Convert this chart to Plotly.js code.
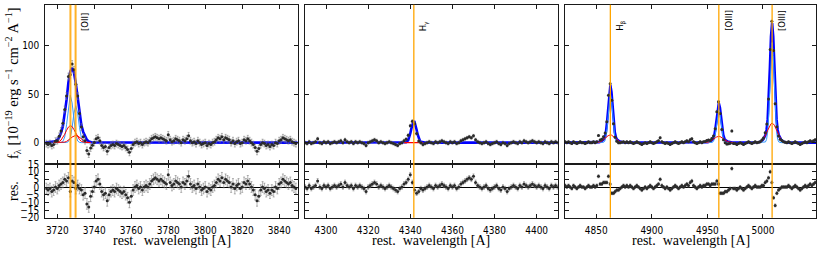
<!DOCTYPE html>
<html><head><meta charset="utf-8">
<script src="https://cdn.plot.ly/plotly-3.0.1.min.js"></script>
<style>html,body{margin:0;padding:0;background:#fff}#c{width:822px;height:254px}</style>
</head><body><div id="c"></div>
<script>
// ---------------- DATA ----------------
// Left panel: [OII] doublet region
const leftWave = [3714,3715,3716,3717,3718,3719,3720,3721,3722,3723,
3724,3725,3726,3727,3728,3729,3730,3731,3732,3733,
3734,3735,3736,3737,3738,3739,3740,3741,3742,3743,
3744,3745,3746,3747,3748,3749,3750,3751,3752,3753,
3754,3755,3756,3757,3758,3759,3760,3761,3762,3763,
3764,3765,3766,3767,3768,3769,3770,3771,3772,3773,
3774,3775,3776,3777,3778,3779,3780,3781,3782,3783,
3784,3785,3786,3787,3788,3789,3790,3791,3792,3793,
3794,3795,3796,3797,3798,3799,3800,3801,3802,3803,
3804,3805,3806,3807,3808,3809,3810,3811,3812,3813,
3814,3815,3816,3817,3818,3819,3820,3821,3822,3823,
3824,3825,3826,3827,3828,3829,3830,3831,3832,3833,
3834,3835,3836,3837,3838,3839,3840,3841,3842,3843,
3844,3845,3846,3847,3848,3849];
const leftFlux = [-1,-2,-1,-3,-2,1.5,2,6.5,12,20,
34,48,68,70,81,75,60,48,30,16,
6,2,-8,-11.8,-5.5,-2.8,0.1,4,5,2,
-3,-5,-4,-9,-5,-3,-2,-3,-1,-2,
-3,-4,-3,-5,-7,-10,-6,-2,0,1,
-1,0,-2,0,1,0,2,4,5,6,
5,4,5,4,3,2,8,3,1,2,
4,3,2,0,3,2,4,7,2,0,
1,-1,2,0,-2,-1,0,-3,-1,-2,
0,1,3,5,4,6,3,5,4,3,
0,2,-1,1,2,-1,0,3,2,4,
2,0,-2,-5,-9,-6,-2,0,-1,-3,
-2,-4,-2,-3,0,-1,2,3,5,4,
3,2,3,1,0,-1];
const leftRes = [-1,-2,-1,-3,-2,0,-1,1,2,3,
5,4,6,-3,4,3,-1,1,-1,-2,
-5,-4,-11,-13,-6,-3,0,4,5,2,
-3,-5,-4,-9,-5,-3,-2,-3,-1,-2,
-3,-4,-3,-5,-7,-10,-6,-2,0,1,
-1,0,-2,0,1,0,2,4,5,6,
5,4,5,4,3,2,8,3,1,2,
4,3,2,0,3,2,4,7,2,0,
1,-1,2,0,-2,-1,0,-3,-1,-2,
0,1,3,5,4,6,3,5,4,3,
0,2,-1,1,2,-1,0,3,2,4,
2,0,-2,-5,-9,-6,-2,0,-1,-3,
-2,-4,-2,-3,0,-1,2,3,5,4,
3,2,3,1,0,-1];
const leftModelWave = [3713.5,3716,3717,3718,3719,3720,3721,3722,3723,3724,3725,3726,3727,3728,3729,3730,3731,3732,3733,3734,3735,3736,3737,3738,3739,3740,3850];
const leftModelTotal = [0,0.3,0.5,1,1.6,3,5.5,10,17,29,44,62,73,77,72,61,47,31,18,11,6,3,1.2,0.5,0.2,0.1,0];
const leftCompWave = [3718,3719,3720,3721,3722,3723,3724,3725,3726,3727,3728,3729,3730,3731,3732,3733,3734,3735,3736,3737,3738];
const leftBroad1 = [0.04,0.14,0.42,1.12,2.56,5.05,8.6,12.6,16.0,17.5,16.5,13.4,9.4,5.7,3.0,1.33,0.52,0.17,0.05,0.01,0];
const leftBroad2 = [0,0,0,0.02,0.07,0.22,0.57,1.27,2.44,4.03,5.75,7.07,7.5,6.86,5.4,3.68,2.16,1.1,0.48,0.18,0.06];
const leftNarrow1 = [0,0,0,0,0.15,1.2,5.8,18.4,37.4,48.9,40.9,22,7.6,1.7,0.24,0.02,0,0,0,0,0];
const leftNarrow2 = [0,0,0,0,0,0,0,0.15,1.1,5.1,15.6,30.4,38,30.4,15.6,5.1,1.1,0.15,0,0,0];

// Middle panel: H gamma
const midWave = [4290,4291,4292,4293,4294,4295,4296,4297,4298,4299,
4300,4301,4302,4303,4304,4305,4306,4307,4308,4309,
4310,4311,4312,4313,4314,4315,4316,4317,4318,4319,
4320,4321,4322,4323,4324,4325,4326,4327,4328,4329,
4330,4331,4332,4333,4334,4335,4336,4337,4338,4339,
4340,4341,4342,4343,4344,4345,4346,4347,4348,4349,
4350,4351,4352,4353,4354,4355,4356,4357,4358,4359,
4360,4361,4362,4363,4364,4365,4366,4367,4368,4369,
4370,4371,4372,4373,4374,4375,4376,4377,4378,4379,
4380,4381,4382,4383,4384,4385,4386,4387,4388,4389,
4390,4391,4392,4393,4394,4395,4396,4397,4398,4399,
4400,4401,4402,4403,4404,4405,4406,4407,4408,4409,4410];
const midFlux = [0,-1,1,-1,0,1,4,0,-1,1,
0,1,-1,0,1,0,1,2,0,3,
1,0,1,-1,1,0,1,0,-1,-3,
0,1,2,3,2,0,1,0,-1,0,
1,0,-1,-2,-3,-1,0,2,3.4,7.5,
17.4,22,19.4,9.3,1.6,-0.1,-2,-1,0,1,
0,-1,1,0,1,2,1,0,-1,1,
0,1,-1,0,2,3,4,5,6,5,
7,3,1,0,-1,0,1,-1,-2,-1,
0,1,-1,-2,0,-1,-3,-1,0,1,
0,-1,1,0,2,1,0,1,2,1,
0,1,0,-1,1,0,-1,1,0,1,0];
const midRes = [0,-1,1,-1,0,1,4,0,-1,1,
0,1,-1,0,1,0,1,2,0,3,
1,0,1,-1,1,0,1,0,-1,-3,
0,1,2,3,2,0,1,0,-1,0,
1,0,-1,-2,-3,-1,0,2,3,5,
8,3,-2,-4,-3,-1,-2,-1,0,1,
0,-1,1,0,1,2,1,0,-1,1,
0,1,-1,0,2,3,4,5,6,5,
7,3,1,0,-1,0,1,-1,-2,-1,
0,1,-1,-2,0,-1,-3,-1,0,1,
0,-1,1,0,2,1,0,1,2,1,
0,1,0,-1,1,0,-1,1,0,1,0];
const midModelWave = [4290,4336,4337,4338,4339,4339.5,4340,4340.5,4341,4341.5,4342,4342.5,4343,4343.5,4344,4344.5,4345,4346,4347,4410];
const midModelTotal = [0,0,0.03,0.38,2.5,5.3,9.4,14.4,19.0,21.7,21.4,18.2,13.3,8.4,4.6,2.2,0.88,0.09,0,0];
const midBroadWave = [4337,4346];
const midBroad = [0,0];

// Right panel: H beta + [OIII]
const rightWave = [4822,4823.5,4825,4826.5,4828,4829.5,4831,4832.5,4834,4835.5,
4837,4838.5,4840,4841.5,4843,4844.5,4846,4847.5,4849,4850.5,
4852,4853.5,4855,4856.5,4858,4859.5,4861,4862.5,4864,4865.5,
4867,4868.5,4870,4871.5,4873,4874.5,4876,4877.5,4879,4880.5,
4882,4883.5,4885,4886.5,4888,4889.5,4891,4892.5,4894,4895.5,
4897,4898.5,4900,4901.5,4903,4904.5,4906,4907.5,4909,4910.5,
4912,4913.5,4915,4916.5,4918,4919.5,4921,4922.5,4924,4925.5,
4927,4928.5,4930,4931.5,4933,4934.5,4936,4937.5,4939,4940.5,
4942,4943.5,4945,4946.5,4948,4949.5,4951,4952.5,4954,4955.5,
4957,4958.5,4960,4961.5,4963,4964.5,4966,4967.5,4969,4970.5,
4972,4973.5,4975,4976.5,4978,4979.5,4981,4982.5,4984,4985.5,
4987,4988.5,4990,4991.5,4993,4994.5,4996,4997.5,4999,5000.5,
5002,5003.5,5005,5006.5,5008,5009.5,5011,5012.5,5014,5015.5,
5017,5018.5,5020,5021.5,5023,5024.5,5026,5027.5,5029,5030.5,
5032,5033.5,5035,5036.5,5038,5039.5,5041,5042.5,5044,5045.5,
5047];
const rightFlux = [1,0,1,0,-1,1,0,-1,0,1,
0,0,-1,0,1,0,0,1,0,1,
7.3,2.7,3.5,6,9.8,21.6,48.9,60.7,43.7,19.4,
5.6,1.5,-0.2,-0.1,0.4,1,0,1,0,1,
0,-1,0,1,0,-1,-2,-1,0,-1,
0,1,0,-1,0,1,2,5,1,0,
-1,0,-1,-2,-1,0,1,0,-1,0,
1,0,1,2,1,3,4,1,0,-1,
0,1,0,1,1.1,2.2,2.6,2.2,4.3,6.8,
14.4,31.7,42.1,30,13.6,2.9,0,-1.5,-1.2,-0.7,
12.1,-1,-1,-2,-1,0,-1,-2,-1,0,
1,0,-1,0,1,0,0.3,0.8,2.8,4.7,
10.1,19.2,44.9,96,125,94.8,40,16.3,6.9,3.6,
2.3,1,0.4,0,1,0,-1,0,1,0,
-1,-2,-1,0,1,0,1,2,1,2,
3];
const rightRes = [1,0,1,0,-1,1,0,-1,0,1,
0,0,-1,0,1,0,0,1,0,1,
7,2,2,3,3,3,7,2,-4,-4,
-3,-2,-2,-1,0,1,0,1,0,1,
0,-1,0,1,0,-1,-2,-1,0,-1,
0,1,0,-1,0,1,2,5,1,0,
-1,0,-1,-2,-1,0,1,0,-1,0,
1,0,1,2,1,3,4,1,0,-1,
0,1,0,1,1,2,2,1,2,2,
2,4,2,-4,-4,-4,-3,-3,-2,-1,
12,-1,-1,-2,-1,0,-1,-2,-1,0,
1,0,-1,0,1,0,0,0,1,1,
3,4,6,10,3,-7,-12,-4,-2,-1,
0,0,0,0,1,0,-1,0,1,0,
-1,-2,-1,0,1,0,1,2,1,2,
3];
const hbWave = [4847.68,4850.68,4852.68,4854.68,4856.68,4857.68,4858.68,4859.68,4860.68,4861.68,4862.68,4863.68,4864.68,4865.68,4866.68,4867.68,4868.68,4870.68,4872.68,4874.68,4877.68];
const hbTotal = [0.01,0.14,0.47,1.3,3.2,5.5,10.6,20.9,36.4,52.2,59,52.2,36.4,20.9,10.6,5.5,3.2,1.3,0.47,0.14,0.01];
const hbBroad = [0.01,0.14,0.47,1.3,2.88,3.94,5.08,6.2,7.14,7.78,8,7.78,7.14,6.2,5.08,3.94,2.88,1.3,0.47,0.14,0.01];
const hbNarrow = [0,0,0,0,0.35,1.6,5.56,14.7,29.3,44.4,51,44.4,29.3,14.7,5.56,1.6,0.35,0,0,0,0];
const o3aWave = [4945.29,4948.29,4950.29,4952.29,4954.29,4955.29,4956.29,4957.29,4958.29,4959.29,4960.29,4961.29,4962.29,4963.29,4964.29,4965.29,4966.29,4968.29,4970.29,4972.29,4975.29];
const o3aTotal = [0.01,0.11,0.38,1.06,2.57,4.26,7.83,14.8,25.4,35.9,40.5,35.9,25.4,14.8,7.83,4.26,2.57,1.06,0.38,0.11,0.01];
const o3aBroad = [0.01,0.11,0.38,1.06,2.34,3.2,4.13,5.04,5.8,6.32,6.5,6.32,5.8,5.04,4.13,3.2,2.34,1.06,0.38,0.11,0.01];
const o3aNarrow = [0,0,0,0,0.23,1.06,3.7,9.8,19.6,29.6,34,29.6,19.6,9.8,3.7,1.06,0.23,0,0,0,0];
const o3bWave = [4993.24,4996.24,4998.24,5000.24,5002.24,5003.24,5004.24,5005.24,5006.24,5007.24,5008.24,5009.24,5010.24,5011.24,5012.24,5013.24,5014.24,5016.24,5018.24,5020.24,5023.24];
const o3bTotal = [0.03,0.34,1.18,3.27,7.9,13.1,23.9,45.1,77.1,109.1,123,109.1,77.1,45.1,23.9,13.1,7.9,3.27,1.18,0.34,0.03];
const o3bBroad = [0.03,0.34,1.18,3.26,7.2,9.84,12.7,15.5,17.9,19.4,20,19.4,17.9,15.5,12.7,9.84,7.2,3.26,1.18,0.34,0.03];
const o3bNarrow = [0,0,0,0.01,0.7,3.22,11.2,29.6,59.2,89.7,103,89.7,59.2,29.6,11.2,3.22,0.7,0.01,0,0,0];
const rightEdges = [4821.6, 5048];

// line markers
const lineWaves = [[3727.09, 3729.88], [4341.68], [4862.68, 4960.29, 5008.24]];
const lineLabels = [[null, "[OII]"], ["H<sub>γ</sub>"], ["H<sub>β</sub>", "[OIII]", "[OIII]"]];

// tick labels
const xRanges = [[3713.5, 3850], [4290, 4410], [4821.6, 5048]];
const xTickVals = [[3720,3740,3760,3780,3800,3820,3840],[4300,4320,4340,4360,4380,4400],[4850,4900,4950,5000]];
const mainTicks = [0, 50, 100];
const resTicks = [-20,-15,-10,-5,0,5,10,15];

// ---------------- LAYOUT ----------------
const W = 822, H = 254;
const colPx = [[45.3, 297.7], [305, 557.7], [564.7, 816.3]];
const mainPx = [4.7, 164], resPx = [164, 217.7];
const dom = p => [p[0] / W, p[1] / W];
const ydom = p => [1 - p[1] / H, 1 - p[0] / H];

const frame = '#1a1a1a';
const tickFont = {family: 'Liberation Sans Narrow, DejaVu Sans Condensed, DejaVu Sans, sans-serif', size: 10, color: '#000'};
const serif = 'Liberation Serif, DejaVu Serif, serif';

const layout = {
  width: W, height: H, margin: {l: 0, r: 0, t: 0, b: 0},
  paper_bgcolor: '#fff', plot_bgcolor: '#fff', showlegend: false,
  shapes: [], annotations: []
};

for (let c = 0; c < 3; c++) {
  const mi = c + 1, ri = c + 4;
  const common = {showline: true, linecolor: frame, linewidth: 1, mirror: 'ticks', ticks: 'inside',
    ticklen: 4, tickcolor: frame, tickwidth: 1, showgrid: false, zeroline: false, tickfont: tickFont};
  layout['xaxis' + (mi === 1 ? '' : mi)] = Object.assign({}, common, {
    domain: dom(colPx[c]), anchor: 'y' + (mi === 1 ? '' : mi), range: xRanges[c],
    tickvals: xTickVals[c], showticklabels: false});
  layout['xaxis' + ri] = Object.assign({}, common, {
    domain: dom(colPx[c]), anchor: 'y' + ri, range: xRanges[c],
    tickvals: xTickVals[c], showticklabels: true, ticklabelstandoff: 3});
  layout['yaxis' + (mi === 1 ? '' : mi)] = Object.assign({}, common, {
    domain: ydom(mainPx), anchor: 'x' + (mi === 1 ? '' : mi), range: [-22, 142],
    tickvals: mainTicks, showticklabels: c === 0, ticklabelstandoff: 3});
  layout['yaxis' + ri] = Object.assign({}, common, {
    domain: ydom(resPx), anchor: 'x' + ri, range: [-20, 15],
    tickvals: resTicks, showticklabels: c === 0, zeroline: true, zerolinecolor: '#000', zerolinewidth: 1,
    ticklabelstandoff: 3});

  // orange line markers through both rows
  lineWaves[c].forEach((w, i) => {
    layout.shapes.push({type: 'line', xref: 'x' + (mi === 1 ? '' : mi), yref: 'paper',
      x0: w, x1: w, y0: 1 - resPx[1] / H, y1: 1 - mainPx[0] / H,
      line: {color: c === 0 ? 'rgba(255,165,0,0.85)' : '#FFA500', width: c === 0 ? 2 : 1.3}, layer: 'above'});
    if (lineLabels[c][i]) {
      layout.annotations.push({xref: 'x' + (mi === 1 ? '' : mi), yref: 'paper', x: w, xshift: 2.5,
        y: 1 - 33 / H, xanchor: 'left', yanchor: 'bottom', textangle: -90, showarrow: false,
        text: lineLabels[c][i], font: {family: 'DejaVu Sans, sans-serif', size: 8.5, color: '#000'}});
    }
  });
  // x titles
  layout.annotations.push({xref: 'paper', yref: 'paper', x: (colPx[c][0] + colPx[c][1]) / 2 / W,
    y: 1 - 240 / H, xanchor: 'center', yanchor: 'middle', showarrow: false,
    text: 'rest.  wavelength [A]', font: {family: serif, size: 14, color: '#000'}});
}
layout.annotations.push({xref: 'paper', yref: 'paper', x: 13 / W, y: 1 - 83 / H, xanchor: 'center', yanchor: 'middle',
  textangle: -90, showarrow: false,
  text: 'f<sub>λ</sub> [10<sup>−19</sup> erg s<sup>−1</sup> cm<sup>−2</sup> A<sup>−1</sup>]',
  font: {family: serif, size: 14.5, color: '#000'}});
layout.annotations.push({xref: 'paper', yref: 'paper', x: 13 / W, y: 1 - 191 / H, xanchor: 'center', yanchor: 'middle',
  textangle: -90, showarrow: false, text: 'res.', font: {family: serif, size: 14, color: '#000'}});

// ---------------- TRACES ----------------
const traces = [];
const ax = (i) => (i === 1 ? '' : String(i));
function line(x, y, col, w, xi, yi) {
  traces.push({type: 'scatter', mode: 'lines', x: x, y: y, xaxis: 'x' + ax(xi), yaxis: 'y' + ax(yi),
    line: {color: col, width: w}, hoverinfo: 'skip'});
}
function pts(x, y, err, xi, yi) {
  traces.push({type: 'scatter', mode: 'markers', x: x, y: y, xaxis: 'x' + ax(xi), yaxis: 'y' + ax(yi),
    marker: {color: '#2b2b2b', size: 3},
    error_y: {type: 'constant', value: err, color: 'rgba(120,120,120,0.55)', thickness: 1, width: 1},
    hoverinfo: 'skip'});
}
const BLUE = '#0000ff', RED = '#ff0000', LB = '#3399ff';
// left
line(leftModelWave, leftModelTotal, BLUE, 2.6, 1, 1);
line(leftCompWave, leftNarrow1, LB, 1, 1, 1);
line(leftCompWave, leftNarrow2, LB, 1, 1, 1);
line(leftCompWave, leftBroad1, RED, 1, 1, 1);
line(leftCompWave, leftBroad2, RED, 1, 1, 1);
pts(leftWave, leftFlux, 3.5, 1, 1);
pts(leftWave, leftRes, 3.5, 4, 4);
// middle
line(midModelWave, midModelTotal, BLUE, 2.6, 2, 2);
line(midBroadWave, midBroad, RED, 1.2, 2, 2);
pts(midWave, midFlux, 1.5, 2, 2);
pts(midWave, midRes, 1.5, 5, 5);
// right
const rX = [rightEdges[0]].concat(hbWave, o3aWave, o3bWave, [rightEdges[1]]);
const rY = [0].concat(hbTotal, o3aTotal, o3bTotal, [0]);
line(rX, rY, BLUE, 2.6, 3, 3);
line(hbWave, hbNarrow, LB, 1, 3, 3);
line(o3aWave, o3aNarrow, LB, 1, 3, 3);
line(o3bWave, o3bNarrow, LB, 1, 3, 3);
line(hbWave, hbBroad, RED, 1, 3, 3);
line(o3aWave, o3aBroad, RED, 1, 3, 3);
line(o3bWave, o3bBroad, RED, 1, 3, 3);
pts(rightWave, rightFlux, 1, 3, 3);
pts(rightWave, rightRes, 1, 6, 6);

Plotly.newPlot('c', traces, layout, {staticPlot: true, displayModeBar: false});
</script></body></html>
